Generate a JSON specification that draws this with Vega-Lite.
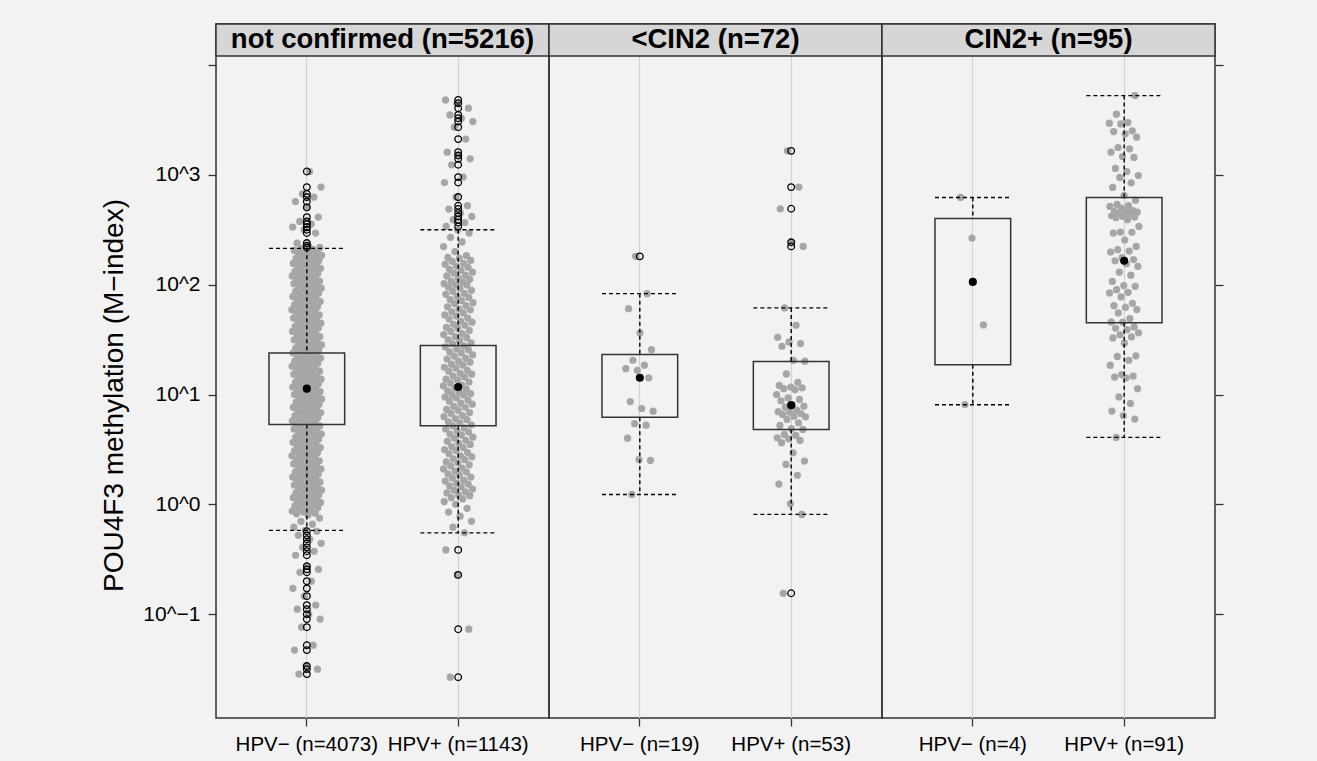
{
"$schema": "https://vega.github.io/schema/vega-lite/v6.json",
"background": "#f2f2f2",
"padding": {"left": 100, "top": 22, "right": 94, "bottom": 5},
"datasets": {
"groups": [
{"g":"a","panel":"not confirmed (n=5216)","hpv":"HPV− (n=4073)"},
{"g":"b","panel":"not confirmed (n=5216)","hpv":"HPV+ (n=1143)"},
{"g":"c","panel":"<CIN2 (n=72)","hpv":"HPV− (n=19)"},
{"g":"d","panel":"<CIN2 (n=72)","hpv":"HPV+ (n=53)"},
{"g":"e","panel":"CIN2+ (n=95)","hpv":"HPV− (n=4)"},
{"g":"f","panel":"CIN2+ (n=95)","hpv":"HPV+ (n=91)"}
],
"obs": [
{"g":"a","lo":0.58,"q1":5.34,"med":11.3,"q3":23.9,"hi":214},
{"g":"b","lo":0.55,"q1":5.19,"med":11.7,"q3":27.9,"hi":316},
{"g":"c","lo":1.23,"q1":6.2,"med":14.2,"q3":23.1,"hi":82.8},
{"g":"d","lo":0.81,"q1":4.8,"med":8.0,"q3":20.0,"hi":61.4},
{"g":"e","lo":8.06,"q1":18.7,"med":106,"q3":401,"hi":622},
{"g":"f","lo":4.07,"q1":45,"med":165,"q3":622,"hi":5264},
{"g":"a","v":1072,"outlier":true},{"g":"a","v":773,"outlier":true},{"g":"a","v":671,"outlier":true},{"g":"a","v":627,"outlier":true},{"g":"a","v":571,"outlier":true},{"g":"a","v":505,"outlier":true},{"g":"a","v":412,"outlier":true},{"g":"a","v":376,"outlier":true},{"g":"a","v":356,"outlier":true},{"g":"a","v":335,"outlier":true},{"g":"a","v":316,"outlier":true},{"g":"a","v":295,"outlier":true},{"g":"a","v":239,"outlier":true},{"g":"a","v":226,"outlier":true},{"g":"a","v":218,"outlier":true},
{"g":"a","v":0.569,"outlier":true},{"g":"a","v":0.522,"outlier":true},{"g":"a","v":0.481,"outlier":true},{"g":"a","v":0.442,"outlier":true},{"g":"a","v":0.406,"outlier":true},{"g":"a","v":0.374,"outlier":true},{"g":"a","v":0.344,"outlier":true},{"g":"a","v":0.273,"outlier":true},{"g":"a","v":0.256,"outlier":true},{"g":"a","v":0.241,"outlier":true},{"g":"a","v":0.2,"outlier":true},{"g":"a","v":0.172,"outlier":true},{"g":"a","v":0.146,"outlier":true},{"g":"a","v":0.121,"outlier":true},{"g":"a","v":0.111,"outlier":true},{"g":"a","v":0.1,"outlier":true},{"g":"a","v":0.0902,"outlier":true},{"g":"a","v":0.0762,"outlier":true},{"g":"a","v":0.0522,"outlier":true},{"g":"a","v":0.0471,"outlier":true},{"g":"a","v":0.0337,"outlier":true},{"g":"a","v":0.0316,"outlier":true},{"g":"a","v":0.0285,"outlier":true},
{"g":"a","v":0.58},{"g":"a","v":0.62},{"g":"a","v":0.66},{"g":"a","v":0.7},{"g":"a","v":0.75},
{"g":"a","v":0.8},{"g":"a","v":0.82},{"g":"a","v":0.83},{"g":"a","v":0.85},{"g":"a","v":0.87},{"g":"a","v":0.89},{"g":"a","v":0.91},{"g":"a","v":0.93},{"g":"a","v":0.95},{"g":"a","v":0.97},
{"g":"a","v":1.00},{"g":"a","v":1.02},{"g":"a","v":1.04},{"g":"a","v":1.06},{"g":"a","v":1.08},{"g":"a","v":1.10},{"g":"a","v":1.12},{"g":"a","v":1.15},{"g":"a","v":1.17},{"g":"a","v":1.20},{"g":"a","v":1.22},{"g":"a","v":1.25},{"g":"a","v":1.27},{"g":"a","v":1.30},{"g":"a","v":1.32},{"g":"a","v":1.35},{"g":"a","v":1.38},{"g":"a","v":1.41},{"g":"a","v":1.44},{"g":"a","v":1.47},{"g":"a","v":1.50},{"g":"a","v":1.53},{"g":"a","v":1.56},{"g":"a","v":1.60},{"g":"a","v":1.63},{"g":"a","v":1.66},{"g":"a","v":1.70},{"g":"a","v":1.74},{"g":"a","v":1.77},{"g":"a","v":1.81},{"g":"a","v":1.85},{"g":"a","v":1.89},{"g":"a","v":1.93},{"g":"a","v":1.97},{"g":"a","v":2.01},{"g":"a","v":2.05},{"g":"a","v":2.10},{"g":"a","v":2.14},{"g":"a","v":2.19},{"g":"a","v":2.24},{"g":"a","v":2.29},{"g":"a","v":2.34},{"g":"a","v":2.39},{"g":"a","v":2.44},{"g":"a","v":2.49},{"g":"a","v":2.55},{"g":"a","v":2.60},{"g":"a","v":2.66},{"g":"a","v":2.71},{"g":"a","v":2.77},{"g":"a","v":2.83},{"g":"a","v":2.89},{"g":"a","v":2.96},{"g":"a","v":3.02},{"g":"a","v":3.09},{"g":"a","v":3.15},{"g":"a","v":3.22},{"g":"a","v":3.29},{"g":"a","v":3.36},{"g":"a","v":3.44},{"g":"a","v":3.51},{"g":"a","v":3.59},{"g":"a","v":3.67},{"g":"a","v":3.75},{"g":"a","v":3.83},{"g":"a","v":3.91},{"g":"a","v":4.00},{"g":"a","v":4.09},{"g":"a","v":4.18},{"g":"a","v":4.27},{"g":"a","v":4.36},{"g":"a","v":4.46},{"g":"a","v":4.55},{"g":"a","v":4.65},{"g":"a","v":4.75},{"g":"a","v":4.86},{"g":"a","v":4.96},{"g":"a","v":5.07},{"g":"a","v":5.18},{"g":"a","v":5.30},{"g":"a","v":5.41},{"g":"a","v":5.53},{"g":"a","v":5.65},{"g":"a","v":5.77},{"g":"a","v":5.90},{"g":"a","v":6.03},{"g":"a","v":6.16},{"g":"a","v":6.29},{"g":"a","v":6.43},{"g":"a","v":6.57},{"g":"a","v":6.72},{"g":"a","v":6.86},{"g":"a","v":7.01},{"g":"a","v":7.17},{"g":"a","v":7.32},{"g":"a","v":7.48},{"g":"a","v":7.65},{"g":"a","v":7.81},{"g":"a","v":7.98},{"g":"a","v":8.16},{"g":"a","v":8.34},{"g":"a","v":8.52},{"g":"a","v":8.70},{"g":"a","v":8.89},{"g":"a","v":9.09},{"g":"a","v":9.29},{"g":"a","v":9.49},{"g":"a","v":9.70},{"g":"a","v":9.91},
{"g":"a","v":10.0},{"g":"a","v":10.2},{"g":"a","v":10.4},{"g":"a","v":10.6},{"g":"a","v":10.8},{"g":"a","v":11.0},{"g":"a","v":11.2},{"g":"a","v":11.5},{"g":"a","v":11.7},{"g":"a","v":12.0},{"g":"a","v":12.2},{"g":"a","v":12.5},{"g":"a","v":12.7},{"g":"a","v":13.0},{"g":"a","v":13.2},{"g":"a","v":13.5},{"g":"a","v":13.8},{"g":"a","v":14.1},{"g":"a","v":14.4},{"g":"a","v":14.7},{"g":"a","v":15.0},{"g":"a","v":15.3},{"g":"a","v":15.6},{"g":"a","v":16.0},{"g":"a","v":16.3},{"g":"a","v":16.6},{"g":"a","v":17.0},{"g":"a","v":17.4},{"g":"a","v":17.7},{"g":"a","v":18.1},{"g":"a","v":18.5},{"g":"a","v":18.9},{"g":"a","v":19.3},{"g":"a","v":19.7},{"g":"a","v":20.1},{"g":"a","v":20.5},{"g":"a","v":21.0},{"g":"a","v":21.4},{"g":"a","v":21.9},{"g":"a","v":22.4},{"g":"a","v":22.9},{"g":"a","v":23.4},{"g":"a","v":23.9},{"g":"a","v":24.4},{"g":"a","v":24.9},{"g":"a","v":25.5},{"g":"a","v":26.0},{"g":"a","v":26.6},{"g":"a","v":27.1},{"g":"a","v":27.7},{"g":"a","v":28.3},{"g":"a","v":28.9},{"g":"a","v":29.6},{"g":"a","v":30.2},{"g":"a","v":30.9},{"g":"a","v":31.5},{"g":"a","v":32.2},{"g":"a","v":32.9},{"g":"a","v":33.6},{"g":"a","v":34.4},{"g":"a","v":35.1},{"g":"a","v":35.9},{"g":"a","v":36.7},{"g":"a","v":37.5},{"g":"a","v":38.3},{"g":"a","v":39.1},{"g":"a","v":40.0},{"g":"a","v":40.9},{"g":"a","v":41.8},{"g":"a","v":42.7},{"g":"a","v":43.6},{"g":"a","v":44.6},{"g":"a","v":45.5},{"g":"a","v":46.5},{"g":"a","v":47.5},{"g":"a","v":48.6},{"g":"a","v":49.6},{"g":"a","v":50.7},{"g":"a","v":51.8},{"g":"a","v":53.0},{"g":"a","v":54.1},{"g":"a","v":55.3},{"g":"a","v":56.5},{"g":"a","v":57.7},{"g":"a","v":59.0},{"g":"a","v":60.3},{"g":"a","v":61.6},{"g":"a","v":62.9},{"g":"a","v":64.3},{"g":"a","v":65.7},{"g":"a","v":67.2},{"g":"a","v":68.6},{"g":"a","v":70.1},{"g":"a","v":71.7},{"g":"a","v":73.2},{"g":"a","v":74.8},{"g":"a","v":76.5},{"g":"a","v":78.1},{"g":"a","v":79.8},{"g":"a","v":81.6},{"g":"a","v":83.4},{"g":"a","v":85.2},{"g":"a","v":87.0},{"g":"a","v":88.9},{"g":"a","v":90.9},{"g":"a","v":92.9},{"g":"a","v":94.9},{"g":"a","v":97.0},{"g":"a","v":99.1},
{"g":"a","v":100},{"g":"a","v":102},{"g":"a","v":104},{"g":"a","v":106},{"g":"a","v":108},{"g":"a","v":110},{"g":"a","v":112},{"g":"a","v":115},{"g":"a","v":117},{"g":"a","v":120},{"g":"a","v":122},{"g":"a","v":125},{"g":"a","v":127},{"g":"a","v":130},{"g":"a","v":132},{"g":"a","v":135},{"g":"a","v":138},{"g":"a","v":141},{"g":"a","v":144},{"g":"a","v":147},{"g":"a","v":150},{"g":"a","v":153},{"g":"a","v":156},{"g":"a","v":160},{"g":"a","v":163},{"g":"a","v":166},{"g":"a","v":170},{"g":"a","v":174},{"g":"a","v":177},{"g":"a","v":181},{"g":"a","v":185},{"g":"a","v":189},{"g":"a","v":193},{"g":"a","v":197},{"g":"a","v":201},{"g":"a","v":205},{"g":"a","v":210},{"g":"a","v":214},
{"g":"b","v":4808,"outlier":true},{"g":"b","v":4487,"outlier":true},{"g":"b","v":4040,"outlier":true},{"g":"b","v":3510,"outlier":true},{"g":"b","v":3273,"outlier":true},{"g":"b","v":3052,"outlier":true},{"g":"b","v":2716,"outlier":true},{"g":"b","v":2113,"outlier":true},{"g":"b","v":1608,"outlier":true},{"g":"b","v":1497,"outlier":true},{"g":"b","v":1397,"outlier":true},{"g":"b","v":1233,"outlier":true},{"g":"b","v":953,"outlier":true},{"g":"b","v":851,"outlier":true},{"g":"b","v":627,"outlier":true},{"g":"b","v":523,"outlier":true},{"g":"b","v":488,"outlier":true},{"g":"b","v":449,"outlier":true},{"g":"b","v":418,"outlier":true},{"g":"b","v":390,"outlier":true},{"g":"b","v":368,"outlier":true},{"g":"b","v":339,"outlier":true},
{"g":"b","v":0.385,"outlier":true},{"g":"b","v":0.228,"outlier":true},{"g":"b","v":0.073,"outlier":true},{"g":"b","v":0.0267,"outlier":true},
{"g":"b","v":0.55},{"g":"b","v":0.62},{"g":"b","v":0.7},{"g":"b","v":0.78},{"g":"b","v":0.85},{"g":"b","v":0.92},{"g":"b","v":1.0},{"g":"b","v":1.06},
{"g":"b","v":1.12},{"g":"b","v":1.15},{"g":"b","v":1.20},{"g":"b","v":1.22},{"g":"b","v":1.27},{"g":"b","v":1.30},{"g":"b","v":1.35},{"g":"b","v":1.38},{"g":"b","v":1.44},{"g":"b","v":1.47},{"g":"b","v":1.53},{"g":"b","v":1.56},{"g":"b","v":1.63},{"g":"b","v":1.66},{"g":"b","v":1.74},{"g":"b","v":1.77},{"g":"b","v":1.85},{"g":"b","v":1.89},{"g":"b","v":1.97},{"g":"b","v":2.01},{"g":"b","v":2.10},{"g":"b","v":2.14},{"g":"b","v":2.24},{"g":"b","v":2.29},{"g":"b","v":2.39},{"g":"b","v":2.44},{"g":"b","v":2.55},{"g":"b","v":2.60},{"g":"b","v":2.71},{"g":"b","v":2.77},{"g":"b","v":2.89},{"g":"b","v":2.96},{"g":"b","v":3.09},{"g":"b","v":3.15},{"g":"b","v":3.29},{"g":"b","v":3.36},{"g":"b","v":3.51},{"g":"b","v":3.59},{"g":"b","v":3.75},{"g":"b","v":3.83},{"g":"b","v":4.00},{"g":"b","v":4.09},{"g":"b","v":4.27},{"g":"b","v":4.36},{"g":"b","v":4.55},{"g":"b","v":4.65},{"g":"b","v":4.86},{"g":"b","v":4.96},{"g":"b","v":5.18},{"g":"b","v":5.30},{"g":"b","v":5.53},{"g":"b","v":5.65},{"g":"b","v":5.90},{"g":"b","v":6.03},{"g":"b","v":6.29},{"g":"b","v":6.43},{"g":"b","v":6.72},{"g":"b","v":6.86},{"g":"b","v":7.17},{"g":"b","v":7.32},{"g":"b","v":7.65},{"g":"b","v":7.81},{"g":"b","v":8.16},{"g":"b","v":8.34},{"g":"b","v":8.70},{"g":"b","v":8.89},{"g":"b","v":9.29},{"g":"b","v":9.49},{"g":"b","v":9.91},
{"g":"b","v":10.0},{"g":"b","v":10.2},{"g":"b","v":10.6},{"g":"b","v":10.8},{"g":"b","v":11.2},{"g":"b","v":11.5},{"g":"b","v":12.0},{"g":"b","v":12.2},{"g":"b","v":12.7},{"g":"b","v":13.0},{"g":"b","v":13.5},{"g":"b","v":13.8},{"g":"b","v":14.4},{"g":"b","v":14.7},{"g":"b","v":15.3},{"g":"b","v":15.6},{"g":"b","v":16.3},{"g":"b","v":16.6},{"g":"b","v":17.4},{"g":"b","v":17.7},{"g":"b","v":18.5},{"g":"b","v":18.9},{"g":"b","v":19.7},{"g":"b","v":20.1},{"g":"b","v":21.0},{"g":"b","v":21.4},{"g":"b","v":22.4},{"g":"b","v":22.9},{"g":"b","v":23.9},{"g":"b","v":24.4},{"g":"b","v":25.5},{"g":"b","v":26.0},{"g":"b","v":27.1},{"g":"b","v":27.7},{"g":"b","v":28.9},{"g":"b","v":29.6},{"g":"b","v":30.9},{"g":"b","v":31.5},{"g":"b","v":32.9},{"g":"b","v":33.6},{"g":"b","v":35.1},{"g":"b","v":35.9},{"g":"b","v":37.5},{"g":"b","v":38.3},{"g":"b","v":40.0},{"g":"b","v":40.9},{"g":"b","v":42.7},{"g":"b","v":43.6},{"g":"b","v":45.5},{"g":"b","v":46.5},{"g":"b","v":48.6},{"g":"b","v":49.6},{"g":"b","v":51.8},{"g":"b","v":53.0},{"g":"b","v":55.3},{"g":"b","v":56.5},{"g":"b","v":59.0},{"g":"b","v":60.3},{"g":"b","v":62.9},{"g":"b","v":64.3},{"g":"b","v":67.2},{"g":"b","v":68.6},{"g":"b","v":71.7},{"g":"b","v":73.2},{"g":"b","v":76.5},{"g":"b","v":78.1},{"g":"b","v":81.6},{"g":"b","v":83.4},{"g":"b","v":87.0},{"g":"b","v":88.9},{"g":"b","v":92.9},{"g":"b","v":94.9},{"g":"b","v":99.1},
{"g":"b","v":100},{"g":"b","v":102},{"g":"b","v":106},{"g":"b","v":108},{"g":"b","v":112},{"g":"b","v":115},{"g":"b","v":120},{"g":"b","v":122},{"g":"b","v":127},{"g":"b","v":130},{"g":"b","v":135},{"g":"b","v":138},{"g":"b","v":144},{"g":"b","v":147},{"g":"b","v":153},{"g":"b","v":156},{"g":"b","v":163},{"g":"b","v":166},{"g":"b","v":174},{"g":"b","v":177},{"g":"b","v":184},
{"g":"b","v":200},{"g":"b","v":222},{"g":"b","v":245},{"g":"b","v":270},{"g":"b","v":295},{"g":"b","v":316},
{"g":"c","v":181,"outlier":true},{"g":"c","v":82.8},{"g":"c","v":60.5},{"g":"c","v":36.4},{"g":"c","v":25.6},{"g":"c","v":20.5},{"g":"c","v":18.5},{"g":"c","v":17.2},{"g":"c","v":16.6},{"g":"c","v":14.2},{"g":"c","v":8.63},{"g":"c","v":7.46},{"g":"c","v":7.05},{"g":"c","v":5.42},{"g":"c","v":5.26},{"g":"c","v":4.0},{"g":"c","v":2.56},{"g":"c","v":2.51},{"g":"c","v":1.23},
{"g":"d","v":1652,"outlier":true},{"g":"d","v":773,"outlier":true},{"g":"d","v":491,"outlier":true},{"g":"d","v":243,"outlier":true},{"g":"d","v":223,"outlier":true},{"g":"d","v":0.155,"outlier":true},
{"g":"d","v":61.4},{"g":"d","v":42.7},{"g":"d","v":33.2},{"g":"d","v":30.1},{"g":"d","v":29.1},{"g":"d","v":27.5},{"g":"d","v":20.5},{"g":"d","v":20.1},{"g":"d","v":15.4},{"g":"d","v":12.9},{"g":"d","v":12.1},{"g":"d","v":11.7},{"g":"d","v":11.5},{"g":"d","v":11.3},{"g":"d","v":11.1},{"g":"d","v":10.0},{"g":"d","v":9.33},{"g":"d","v":9.01},{"g":"d","v":8.77},{"g":"d","v":8.0},{"g":"d","v":7.83},{"g":"d","v":7.67},{"g":"d","v":7.2},{"g":"d","v":6.97},{"g":"d","v":6.91},{"g":"d","v":6.68},{"g":"d","v":6.58},{"g":"d","v":6.35},{"g":"d","v":6.27},{"g":"d","v":5.93},{"g":"d","v":5.53},{"g":"d","v":5.23},{"g":"d","v":4.88},{"g":"d","v":4.81},{"g":"d","v":4.33},{"g":"d","v":4.24},{"g":"d","v":4.04},{"g":"d","v":3.95},{"g":"d","v":3.82},{"g":"d","v":3.64},{"g":"d","v":2.95},{"g":"d","v":2.48},{"g":"d","v":2.31},{"g":"d","v":1.84},{"g":"d","v":1.53},{"g":"d","v":1.01},{"g":"d","v":0.81},
{"g":"e","v":622},{"g":"e","v":266},{"g":"e","v":43},{"g":"e","v":8.1},
{"g":"f","v":5264},{"g":"f","v":3561},{"g":"f","v":2991},{"g":"f","v":2949},{"g":"f","v":2908},{"g":"f","v":2512},{"g":"f","v":2477},{"g":"f","v":2360},{"g":"f","v":2200},{"g":"f","v":1772},{"g":"f","v":1724},{"g":"f","v":1607},{"g":"f","v":1468},{"g":"f","v":1438},{"g":"f","v":1142},{"g":"f","v":1072},{"g":"f","v":986},{"g":"f","v":946},{"g":"f","v":846},{"g":"f","v":767},{"g":"f","v":649},{"g":"f","v":588},{"g":"f","v":537},{"g":"f","v":523},{"g":"f","v":515},{"g":"f","v":498},{"g":"f","v":471},{"g":"f","v":464},{"g":"f","v":461},{"g":"f","v":458},{"g":"f","v":448},{"g":"f","v":442},{"g":"f","v":424},{"g":"f","v":418},{"g":"f","v":412},{"g":"f","v":407},{"g":"f","v":390},{"g":"f","v":339},{"g":"f","v":301},{"g":"f","v":300},{"g":"f","v":295},{"g":"f","v":255},{"g":"f","v":223},{"g":"f","v":208},{"g":"f","v":202},{"g":"f","v":198},{"g":"f","v":176},{"g":"f","v":169},{"g":"f","v":165},{"g":"f","v":155},{"g":"f","v":147},{"g":"f","v":130},{"g":"f","v":122},{"g":"f","v":107},{"g":"f","v":98},{"g":"f","v":96.6},{"g":"f","v":90.1},{"g":"f","v":85.2},{"g":"f","v":84.0},{"g":"f","v":77.3},{"g":"f","v":67.7},{"g":"f","v":64.4},{"g":"f","v":62.2},{"g":"f","v":59.3},{"g":"f","v":55.3},{"g":"f","v":49.1},{"g":"f","v":45.8},{"g":"f","v":45.6},{"g":"f","v":41.2},{"g":"f","v":40.1},{"g":"f","v":39.0},{"g":"f","v":36.4},{"g":"f","v":34.9},{"g":"f","v":33.4},{"g":"f","v":32.7},{"g":"f","v":29.3},{"g":"f","v":22.5},{"g":"f","v":22.2},{"g":"f","v":20.5},{"g":"f","v":18.5},{"g":"f","v":15.2},{"g":"f","v":14.7},{"g":"f","v":14.4},{"g":"f","v":14.2},{"g":"f","v":11.3},{"g":"f","v":9.5},{"g":"f","v":8.3},{"g":"f","v":7.06},{"g":"f","v":6.44},{"g":"f","v":5.97},{"g":"f","v":4.07}
]
},
"data": {"name": "obs"},
"transform": [
{"lookup": "g", "from": {"data": {"name": "groups"}, "key": "g", "fields": ["panel", "hpv"]}},
{"window": [{"op": "row_number", "as": "rn"}], "groupby": ["g"], "sort": [{"field": "v"}]},
{"calculate": "(datum.rn * 0.6180339887) % 1", "as": "jit"}
],
"facet": {"column": {"field": "panel", "type": "nominal", "sort": ["not confirmed (n=5216)", "<CIN2 (n=72)", "CIN2+ (n=95)"], "header": {"labels": false, "title": null, "labelPadding": 0, "titlePadding": 0}}},
"spacing": 0,
"bounds": "flush",
"resolve": {"scale": {"x": "independent", "xOffset": "independent"}},
"spec": {
"width": 333,
"height": 694,
"resolve": {"axis": {"y": "independent"}},
"layer": [
{
"transform": [{"filter": "isValid(datum.v)"}],
"mark": {"type": "point", "filled": true, "color": "#a6a6a6", "opacity": 1, "size": 52},
"encoding": {
"x": {"field": "hpv", "type": "nominal", "title": null, "sort": ["HPV− (n=4073)", "HPV+ (n=1143)", "HPV− (n=19)", "HPV+ (n=53)", "HPV− (n=4)", "HPV+ (n=91)"],
"scale": {"type": "band", "paddingInner": 0.5, "paddingOuter": 0.35}},
"xOffset": {"field": "jit", "type": "quantitative", "scale": {"domain": [-0.762, 1.762]}},
"y": {"field": "v", "type": "quantitative", "scale": {"type": "log", "domain": [0.01135, 23600], "nice": false},
"axis": {"orient": "left", "values": [0.1, 1, 10, 100, 1000, 10000], "labelExpr": "datum.value > 5000 ? '' : '10^' + format(round(log(datum.value) / LN10), 'd')", "labelFontSize": 21, "labelColor": "#000", "labelPadding": 8, "labelOverlap": false, "labelFlush": false, "tickSize": 8, "tickColor": "#333", "tickWidth": 1.3, "domain": false, "grid": false,
"title": "POU4F3 methylation (M−index)", "titleFontSize": 28, "titleFontWeight": "normal", "titleColor": "#000", "titlePadding": 14, "titleY": 371}}
}
},
{
"transform": [{"filter": "isValid(datum.med)"}],
"mark": {"type": "rule", "color": "#000", "strokeDash": [4, 3], "strokeWidth": 1.4},
"encoding": {
"x": {"field": "hpv", "type": "nominal", "title": null, "sort": ["HPV− (n=4073)", "HPV+ (n=1143)", "HPV− (n=19)", "HPV+ (n=53)", "HPV− (n=4)", "HPV+ (n=91)"]},
"y": {"field": "hi", "type": "quantitative", "axis": null},
"y2": {"field": "q3"}
}
},
{
"transform": [{"filter": "isValid(datum.med)"}],
"mark": {"type": "rule", "color": "#000", "strokeDash": [4, 3], "strokeWidth": 1.4},
"encoding": {
"x": {"field": "hpv", "type": "nominal", "title": null, "sort": ["HPV− (n=4073)", "HPV+ (n=1143)", "HPV− (n=19)", "HPV+ (n=53)", "HPV− (n=4)", "HPV+ (n=91)"]},
"y": {"field": "q1", "type": "quantitative", "axis": null},
"y2": {"field": "lo"}
}
},
{
"transform": [{"filter": "isValid(datum.med)"}],
"mark": {"type": "rule", "color": "#000", "strokeDash": [4, 3], "strokeWidth": 1.4},
"encoding": {
"x": {"field": "hpv", "type": "nominal", "title": null, "bandPosition": 0, "sort": ["HPV− (n=4073)", "HPV+ (n=1143)", "HPV− (n=19)", "HPV+ (n=53)", "HPV− (n=4)", "HPV+ (n=91)"]},
"x2": {"field": "hpv", "bandPosition": 1},
"y": {"field": "hi", "type": "quantitative", "axis": null}
}
},
{
"transform": [{"filter": "isValid(datum.med)"}],
"mark": {"type": "rule", "color": "#000", "strokeDash": [4, 3], "strokeWidth": 1.4},
"encoding": {
"x": {"field": "hpv", "type": "nominal", "title": null, "bandPosition": 0, "sort": ["HPV− (n=4073)", "HPV+ (n=1143)", "HPV− (n=19)", "HPV+ (n=53)", "HPV− (n=4)", "HPV+ (n=91)"]},
"x2": {"field": "hpv", "bandPosition": 1},
"y": {"field": "lo", "type": "quantitative", "axis": null}
}
},
{
"transform": [{"filter": "isValid(datum.med)"}],
"mark": {"type": "rect", "fill": "transparent", "stroke": "#333", "strokeWidth": 1.5},
"encoding": {
"x": {"field": "hpv", "type": "nominal", "title": null, "bandPosition": 0, "sort": ["HPV− (n=4073)", "HPV+ (n=1143)", "HPV− (n=19)", "HPV+ (n=53)", "HPV− (n=4)", "HPV+ (n=91)"]},
"x2": {"field": "hpv", "bandPosition": 1},
"y": {"field": "q1", "type": "quantitative", "axis": null},
"y2": {"field": "q3"}
}
},
{
"transform": [{"filter": "datum.outlier === true"}],
"mark": {"type": "point", "filled": false, "color": "#000", "opacity": 1, "size": 44, "strokeWidth": 1.3},
"encoding": {
"x": {"field": "hpv", "type": "nominal", "title": null, "sort": ["HPV− (n=4073)", "HPV+ (n=1143)", "HPV− (n=19)", "HPV+ (n=53)", "HPV− (n=4)", "HPV+ (n=91)"]},
"y": {"field": "v", "type": "quantitative", "axis": null}
}
},
{
"transform": [{"filter": "isValid(datum.med)"}],
"mark": {"type": "point", "filled": true, "color": "#000", "opacity": 1, "size": 66},
"encoding": {
"x": {"field": "hpv", "type": "nominal", "title": null, "sort": ["HPV− (n=4073)", "HPV+ (n=1143)", "HPV− (n=19)", "HPV+ (n=53)", "HPV− (n=4)", "HPV+ (n=91)"]},
"y": {"field": "med", "type": "quantitative",
"axis": {"orient": "right", "values": [0.1, 1, 10, 100, 1000, 10000], "labels": false, "ticks": true, "tickSize": 8, "tickColor": "#333", "tickWidth": 1.3, "domain": false, "grid": false, "title": null}}
}
},
{
"transform": [{"filter": "isValid(datum.med)"}, {"aggregate": [{"op": "count", "as": "n"}], "groupby": ["panel"]}],
"mark": {"type": "rect", "fill": "#d6d6d6", "stroke": "#333", "strokeWidth": 1.5},
"encoding": {
"y": {"datum": 12080, "type": "quantitative", "axis": null},
"y2": {"datum": 23600}
}
},
{
"transform": [{"filter": "isValid(datum.med)"}, {"aggregate": [{"op": "count", "as": "n"}], "groupby": ["panel"]}],
"mark": {"type": "text", "fontSize": 27.5, "fontWeight": "bold", "color": "#000", "baseline": "middle", "align": "center"},
"encoding": {
"y": {"datum": 16890, "type": "quantitative", "axis": null},
"text": {"field": "panel"}
}
}
]
},
"config": {
"font": "Liberation Sans",
"view": {"stroke": "#333", "strokeWidth": 1.5},
"axisX": {"orient": "bottom", "labelAngle": 0, "labelFontSize": 20.5, "labelColor": "#000", "labelPadding": 8, "labelLimit": 0, "labelOverlap": false, "tickSize": 8, "tickColor": "#333", "tickWidth": 1.3, "domain": false, "grid": true, "gridColor": "#d2d2d2", "gridWidth": 1.2, "bandPosition": 0.5}
}
}
